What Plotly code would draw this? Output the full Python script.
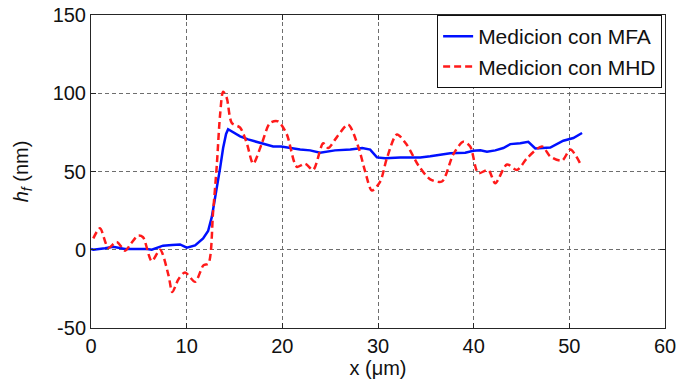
import plotly.graph_objects as go

# Film height profiles along x (um) measured with two techniques
x_mfa = [0.0, 0.24, 1.46, 2.3, 3.56, 5.86, 6.35, 7.53, 8.47, 9.31, 10.01, 10.88,
         11.72, 12.24, 12.63, 13.15, 13.49, 13.81, 14.12, 14.33, 14.85, 15.59,
         16.42, 17.33, 18.2, 19.04, 19.87, 20.82, 21.86, 22.91, 23.95, 25.5,
         27.1, 28.35, 29.18, 29.89, 30.75, 32.32, 34.41, 35.46, 37.55, 39.12,
         39.96, 40.7, 41.39, 42.26, 43.1, 43.83, 44.87, 45.71, 46.44, 48.01,
         49.37, 50.42, 51.33]
h_mfa = [0.5, 0.0, 1.0, 1.9, 0.5, 0.5, 0.0, 2.6, 3.0, 3.4, 1.3, 2.8,
         7.3, 12.0, 21.0, 39.0, 52.0, 65.0, 74.0, 77.0, 75.0, 72.4,
         70.5, 68.8, 67.5, 66.0, 66.0, 65.0, 64.0, 63.5, 62.0, 63.5,
         64.0, 65.0, 64.0, 59.0, 58.5, 59.0, 59.0, 59.7, 61.7, 62.0,
         63.2, 63.5, 62.6, 63.5, 65.0, 67.5, 68.0, 69.0, 64.7, 65.3,
         69.7, 71.4, 74.6]

x_mhd = [0.24, 0.94, 1.81, 2.69, 3.56, 4.18, 4.92, 5.44, 6.35, 7.22, 8.09, 8.5,
         9.13, 9.83, 10.88, 11.75, 12.27, 12.76, 13.15, 13.49, 13.81, 14.19,
         14.72, 15.59, 16.29, 16.95, 17.86, 18.72, 19.56, 20.47, 21.52, 22.38,
         23.22, 24.27, 24.79, 25.7, 26.88, 27.93, 28.66, 29.36, 30.23, 30.93,
         31.98, 33.02, 34.21, 35.46, 36.68, 37.87, 38.91, 39.64, 40.48, 41.53,
         42.26, 43.48, 44.53, 45.58, 47.14, 48.01, 49.24, 50.1, 51.15]
h_mhd = [7.3, 13.7, 1.3, 5.0, -0.6, 4.0, 9.0, 8.0, -7.3, 0.0, -16.0, -27.0,
         -19.0, -14.5, -20.5, -10.0, -8.8, 24.0, 54.0, 86.0, 101.0, 97.0,
         81.0, 78.0, 68.0, 55.0, 68.0, 81.0, 82.0, 73.7, 53.0, 55.0,
         51.0, 68.0, 65.0, 72.0, 80.0, 66.0, 50.0, 37.8, 43.6, 58.5,
         73.7, 67.0, 54.0, 45.0, 43.6, 61.0, 69.0, 66.0, 49.0, 51.0,
         42.5, 54.5, 51.0, 58.5, 66.0, 59.6, 57.0, 64.0, 55.0]

x_ticks = [0, 10, 20, 30, 40, 50, 60]
y_ticks = [-50, 0, 50, 100, 150]

FONT = "Liberation Sans, Arial, sans-serif"

fig = go.Figure()
fig.add_trace(go.Scatter(
    x=x_mfa, y=h_mfa, mode="lines", name="Medicion con MFA",
    line=dict(color="#0010ff", width=2.5),
))
fig.add_trace(go.Scatter(
    x=x_mhd, y=h_mhd, mode="lines", name="Medicion con MHD",
    line=dict(color="#ff1a1a", width=2.5, dash="7px,4px", shape="spline", smoothing=0.8),
))

axis_common = dict(
    showline=True, linecolor="#262626", linewidth=1, mirror="ticks",
    ticks="inside", ticklen=5, tickcolor="#262626",
    showgrid=True, gridcolor="#6e6e6e", gridwidth=1, griddash="4px,3px",
    zeroline=False, automargin=False,
    tickfont=dict(family=FONT, size=20, color="#111"),
)

fig.update_xaxes(
    range=[0, 60], tickvals=x_ticks, ticktext=[str(v) for v in x_ticks],
    title=dict(text="x (\u03bcm)", font=dict(family=FONT, size=20, color="#111"), standoff=4),
    **axis_common,
)
fig.update_yaxes(
    range=[-50, 150], tickvals=y_ticks, ticktext=[str(v) for v in y_ticks],
    title=dict(text="<i>h<sub>f</sub></i> (nm)", font=dict(family=FONT, size=20, color="#111"), standoff=18),
    **axis_common,
)

fig.update_layout(
    width=684, height=384,
    margin=dict(l=91, r=19, t=15, b=56),
    paper_bgcolor="white", plot_bgcolor="white",
    font=dict(family=FONT, size=20, color="#111"),
    legend=dict(
        x=0.995, y=1.0, xanchor="right", yanchor="top",
        bgcolor="white", bordercolor="#111", borderwidth=1,
        font=dict(family=FONT, size=21, color="#111"),
        itemwidth=30, tracegroupgap=0,
    ),
    showlegend=True,
)

fig.write_html("out.html")
